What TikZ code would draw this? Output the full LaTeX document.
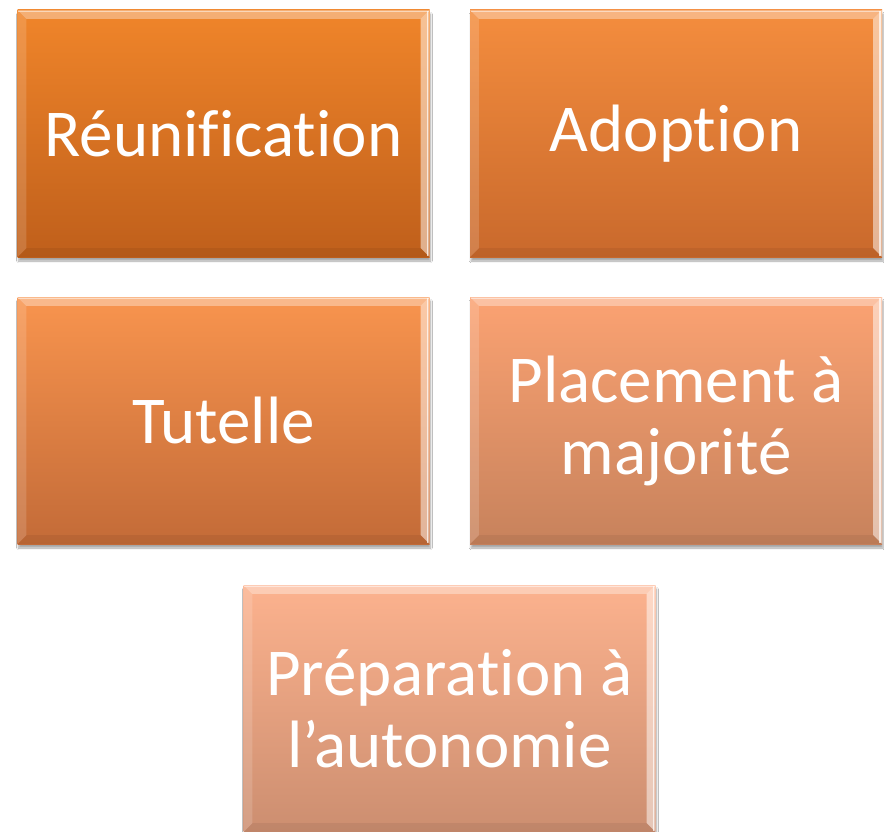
\documentclass[tikz,border=0pt]{standalone}
\usepackage{fontspec}
\setmainfont[Ligatures={NoCommon,NoRare}]{Carlito}
\usetikzlibrary{shadows.blur}
\definecolor{t1}{HTML}{F0852A}\definecolor{b1}{HTML}{BF5F1B}
\definecolor{t2}{HTML}{F48D3E}\definecolor{b2}{HTML}{C9692C}
\definecolor{t3}{HTML}{F8944E}\definecolor{b3}{HTML}{C36B38}
\definecolor{t4}{HTML}{FBA272}\definecolor{b4}{HTML}{C7825C}
\definecolor{t5}{HTML}{FCB28E}\definecolor{b5}{HTML}{CC8E70}
\tikzset{
  x=1pt,y=-1pt,
  card/.style n args={2}{minimum width=412pt,minimum height=247pt,inner sep=0pt,
     top color=#1,bottom color=#2,draw=none,text=white,align=center,
     font=\fontsize{67}{72}\selectfont,
     blur shadow={shadow xshift=1pt,shadow yshift=-4pt,shadow blur steps=6,shadow opacity=35}},
  bevlight/.style={fill=white,fill opacity=0.35,draw=none},
  bevdark/.style={fill=black,fill opacity=0.06,draw=none},
}
\newcommand{\bevel}[1]{%
  \fill[bevlight] (#1.north west) -- (#1.north east) -- ([xshift=-9pt,yshift=-9pt]#1.north east) -- ([xshift=9pt,yshift=-9pt]#1.north west) -- cycle;
  \fill[bevlight,fill opacity=0.5] (#1.north east) -- (#1.south east) -- ([xshift=-9pt,yshift=9pt]#1.south east) -- ([xshift=-9pt,yshift=-9pt]#1.north east) -- cycle;
  \fill[bevlight,fill opacity=0.15] (#1.north west) -- ([xshift=9pt,yshift=-9pt]#1.north west) -- ([xshift=9pt,yshift=9pt]#1.south west) -- (#1.south west) -- cycle;
  \fill[bevdark] (#1.south west) -- ([xshift=9pt,yshift=9pt]#1.south west) -- ([xshift=-9pt,yshift=9pt]#1.south east) -- (#1.south east) -- cycle;
  \draw[white,opacity=0.7,line width=1.5pt] ([xshift=-2pt,yshift=-1pt]#1.north east) -- ([xshift=-2pt,yshift=1pt]#1.south east);
  \draw[white,opacity=0.5,line width=1.2pt] ([xshift=1pt,yshift=-1.5pt]#1.north west) -- ([xshift=-1pt,yshift=-1.5pt]#1.north east);
}
\begin{document}
\begin{tikzpicture}
\useasboundingbox (0,0) rectangle (884,832);
\fill[white] (0,0) rectangle (884,832);
\node[card={t1}{b1}] (r) at (223.5,133.5) {Réunification};
\node[card={t2}{b2}] (a) at (676,133.5) {Adoption};
\node[card={t3}{b3}] (t) at (223.5,420.5) {Tutelle};
\node[card={t4}{b4}] (p) at (676,420.5) {Placement à\\majorité};
\node[card={t5}{b5}] (q) at (449.5,708.5) {Préparation à\\l’autonomie};
\bevel{r}\bevel{a}\bevel{t}\bevel{p}\bevel{q}
\end{tikzpicture}
\end{document}
